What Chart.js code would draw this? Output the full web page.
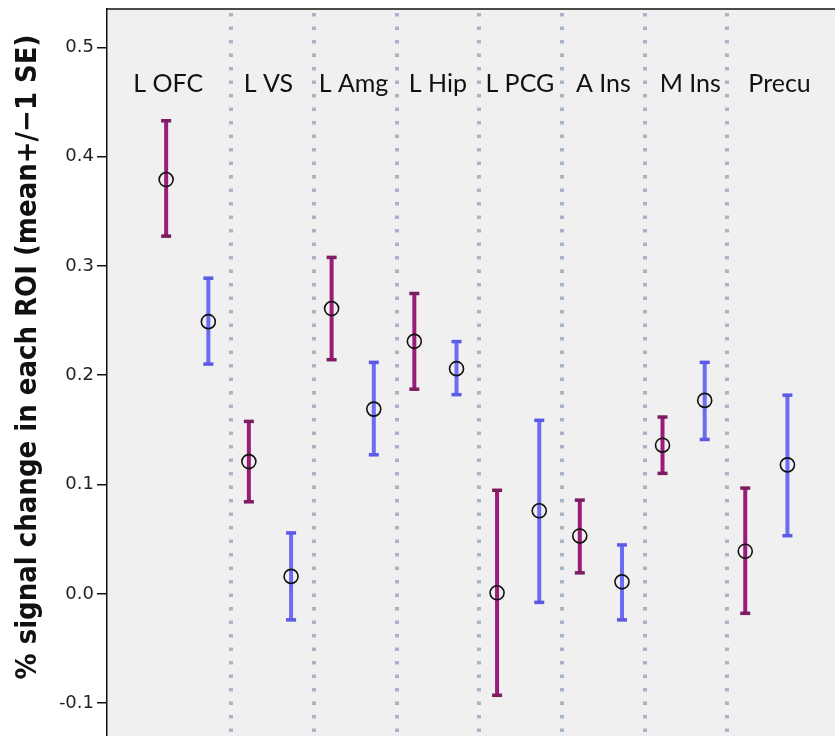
<!DOCTYPE html>
<html>
<head>
<meta charset="utf-8">
<script src="https://cdn.jsdelivr.net/npm/chart.js@4"></script>
<style>
  body { margin: 0; background: #fff; }
</style>
</head>
<body>
<canvas id="roiChart" width="835" height="736"></canvas>
<script>
// ROI names and values
const groups = ['L OFC', 'L VS', 'L Amg', 'L Hip', 'L PCG', 'A Ins', 'M Ins', 'Precu'];
const redMean = [0.379, 0.121, 0.261, 0.231, 0.001, 0.053, 0.136, 0.039];
const redLow = [0.327, 0.084, 0.214, 0.187, -0.093, 0.019, 0.110, -0.018];
const redHigh = [0.433, 0.158, 0.308, 0.275, 0.095, 0.086, 0.162, 0.097];
const blueMean = [0.249, 0.016, 0.169, 0.206, 0.076, 0.011, 0.177, 0.118];
const blueLow = [0.210, -0.024, 0.127, 0.182, -0.008, -0.024, 0.141, 0.053];
const blueHigh = [0.289, 0.056, 0.212, 0.231, 0.159, 0.045, 0.212, 0.182];
const yTicks = [-0.1, 0.0, 0.1, 0.2, 0.3, 0.4, 0.5];
const yTitle = '% signal change in each ROI (mean+/\u22121 SE)';

// where things sit along the x axis (one unit per ROI)
const redOffset = 0.215;
const blueOffset = 0.725;
const labelX = [0.24, 1.45, 2.48, 3.5, 4.49, 5.5, 6.55, 7.63];
const separators = [1, 2, 3, 4, 5, 6, 7];

const redColor = '#9b1b79';
const redCap = '#7d1d5f';
const blueColor = '#6c6cf2';
const blueCap = '#5a5ae6';

const redPoints = redMean.map((v, i) => ({ x: i + redOffset, y: v, lo: redLow[i], hi: redHigh[i] }));
const bluePoints = blueMean.map((v, i) => ({ x: i + blueOffset, y: v, lo: blueLow[i], hi: blueHigh[i] }));

const decor = {
    id: 'decor',
    beforeDraw(chart) {
        const { ctx, chartArea: a } = chart;
        ctx.save();
        ctx.fillStyle = '#f0f0f0';
        ctx.fillRect(a.left, a.top, a.right - a.left, a.bottom - a.top);
        ctx.restore();
    },
    beforeDatasetsDraw(chart) {
        const { ctx, chartArea: a, scales: { x, y } } = chart;
        ctx.save();
        // dotted separators
        ctx.strokeStyle = '#a7b6c6';
        ctx.lineWidth = 4;
        ctx.setLineDash([3.5, 10]);
        separators.forEach(s => {
            const px = Math.round(x.getPixelForValue(s));
            ctx.beginPath();
            ctx.moveTo(px, a.top + 4);
            ctx.lineTo(px, a.bottom);
            ctx.stroke();
        });
        ctx.setLineDash([]);
        // error bars
        const drawBars = (pts, color, cap) => {
            pts.forEach(p => {
                const px = x.getPixelForValue(p.x);
                const top = y.getPixelForValue(p.hi);
                const bot = y.getPixelForValue(p.lo);
                ctx.strokeStyle = color;
                ctx.lineWidth = 4;
                ctx.beginPath();
                ctx.moveTo(px, top);
                ctx.lineTo(px, bot);
                ctx.stroke();
                ctx.fillStyle = cap;
                ctx.fillRect(px - 5, top - 1.5, 10, 3.5);
                ctx.fillRect(px - 5, bot - 2, 10, 3.5);
            });
        };
        drawBars(redPoints, redColor, redCap);
        drawBars(bluePoints, blueColor, blueCap);
        ctx.restore();
    },
    afterDraw(chart) {
        const { ctx, chartArea: a, scales: { x } } = chart;
        ctx.save();
        // frame: top border
        ctx.strokeStyle = '#111';
        ctx.lineWidth = 1.5;
        ctx.beginPath();
        ctx.moveTo(a.left, a.top);
        ctx.lineTo(a.right, a.top);
        ctx.stroke();
        // ROI labels
        ctx.fillStyle = '#111';
        ctx.font = '25px Lato';
        ctx.textAlign = 'center';
        ctx.textBaseline = 'alphabetic';
        groups.forEach((g, i) => {
            ctx.fillText(g, x.getPixelForValue(labelX[i]), 92);
        });
        // y title
        ctx.translate(28, 357);
        ctx.rotate(-Math.PI / 2);
        ctx.font = 'bold 29px "DejaVu Sans"';
        ctx.textBaseline = 'middle';
        ctx.fillText(yTitle, 0, 0, 645);
        ctx.restore();
    }
};

const ctx = document.getElementById('roiChart').getContext('2d');
new Chart(ctx, {
    type: 'scatter',
    data: {
        datasets: [
            {
                label: 'red',
                data: redPoints,
                pointRadius: 7,
                pointBorderWidth: 1.6,
                pointBorderColor: '#111',
                pointBackgroundColor: 'rgba(0,0,0,0)'
            },
            {
                label: 'blue',
                data: bluePoints,
                pointRadius: 7,
                pointBorderWidth: 1.6,
                pointBorderColor: '#111',
                pointBackgroundColor: 'rgba(0,0,0,0)'
            }
        ]
    },
    options: {
        responsive: false,
        animation: false,
        clip: false,
        layout: { autoPadding: false, padding: { top: 9, left: 0, right: 0, bottom: 0 } },
        plugins: {
            legend: { display: false },
            tooltip: { enabled: false }
        },
        scales: {
            x: {
                type: 'linear',
                display: false,
                min: -0.5,
                max: 8.3
            },
            y: {
                min: -0.13,
                max: 0.535,
                afterBuildTicks(scale) {
                    scale.ticks = yTicks.map(v => ({ value: v }));
                },
                afterFit(scale) {
                    scale.width = 107;
                    scale.paddingTop = 0;
                    scale.paddingBottom = 0;
                },
                border: { display: true, color: '#111', width: 1.5 },
                grid: {
                    drawOnChartArea: false,
                    color: '#111',
                    tickLength: 10,
                    lineWidth: 1.5
                },
                ticks: {
                    color: '#222',
                    padding: 3,
                    font: { family: 'DejaVu Sans', size: 18 },
                    callback: v => v.toFixed(1)
                }
            }
        }
    },
    plugins: [decor]
});
</script>
</body>
</html>
